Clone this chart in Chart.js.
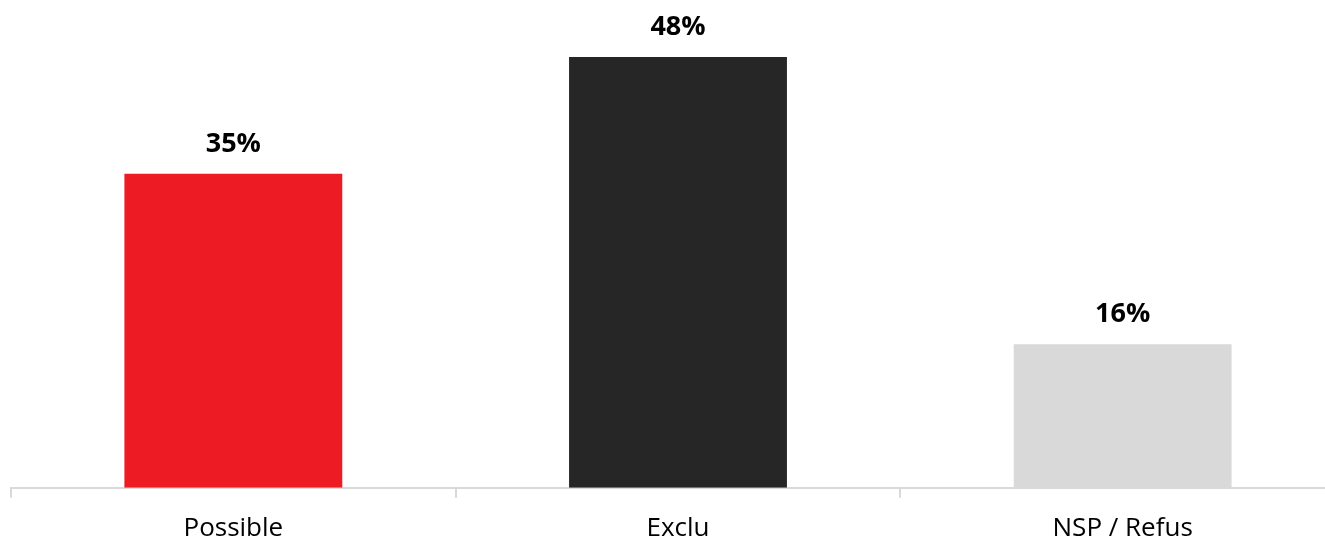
<!DOCTYPE html>
<html>
<head>
<meta charset="utf-8">
<script src="https://cdn.jsdelivr.net/npm/chart.js@4"></script>
<style>
  html, body { margin: 0; padding: 0; background: #fff; overflow: hidden; }
  #wrap { width: 1356px; height: 559px; }
</style>
</head>
<body>
<div id="wrap"><canvas id="chart" width="1356" height="559"></canvas></div>
<script>
  // 데이터
  const categories = ["Possible", "Exclu", "NSP / Refus"];
  const values = [35, 48, 16];
  const barColors = ["#ED1C24", "#262626", "#D9D9D9"];

  // 막대 위 값 표시
  const valueLabels = {
    id: 'valueLabels',
    afterDatasetsDraw(chart) {
      const ctx = chart.ctx;
      const meta = chart.getDatasetMeta(0);
      ctx.save();
      ctx.font = 'bold 27px "Open Sans"';
      ctx.fillStyle = '#000';
      ctx.textAlign = 'center';
      ctx.textBaseline = 'alphabetic';
      meta.data.forEach((bar, i) => {
        ctx.fillText(values[i] + '%', bar.x, bar.y - 22);
      });
      ctx.restore();
    }
  };

  new Chart(document.getElementById('chart'), {
    type: 'bar',
    data: {
      labels: categories,
      datasets: [{
        data: values,
        backgroundColor: barColors,
        barPercentage: 0.49,
        categoryPercentage: 1
      }]
    },
    options: {
      responsive: false,
      animation: false,
      layout: { padding: { left: 11, right: 11, top: 39, bottom: 0 } },
      plugins: { legend: { display: false }, tooltip: { enabled: false } },
      scales: {
        x: {
          grid: { drawOnChartArea: false, tickLength: 10, color: '#D9D9D9', lineWidth: 2 },
          border: { color: '#D9D9D9', width: 2 },
          ticks: { color: '#000', font: { family: 'Open Sans', size: 26 }, padding: 15 }
        },
        y: { display: false, min: 0, max: 50 }
      }
    },
    plugins: [valueLabels]
  });
</script>
</body>
</html>
